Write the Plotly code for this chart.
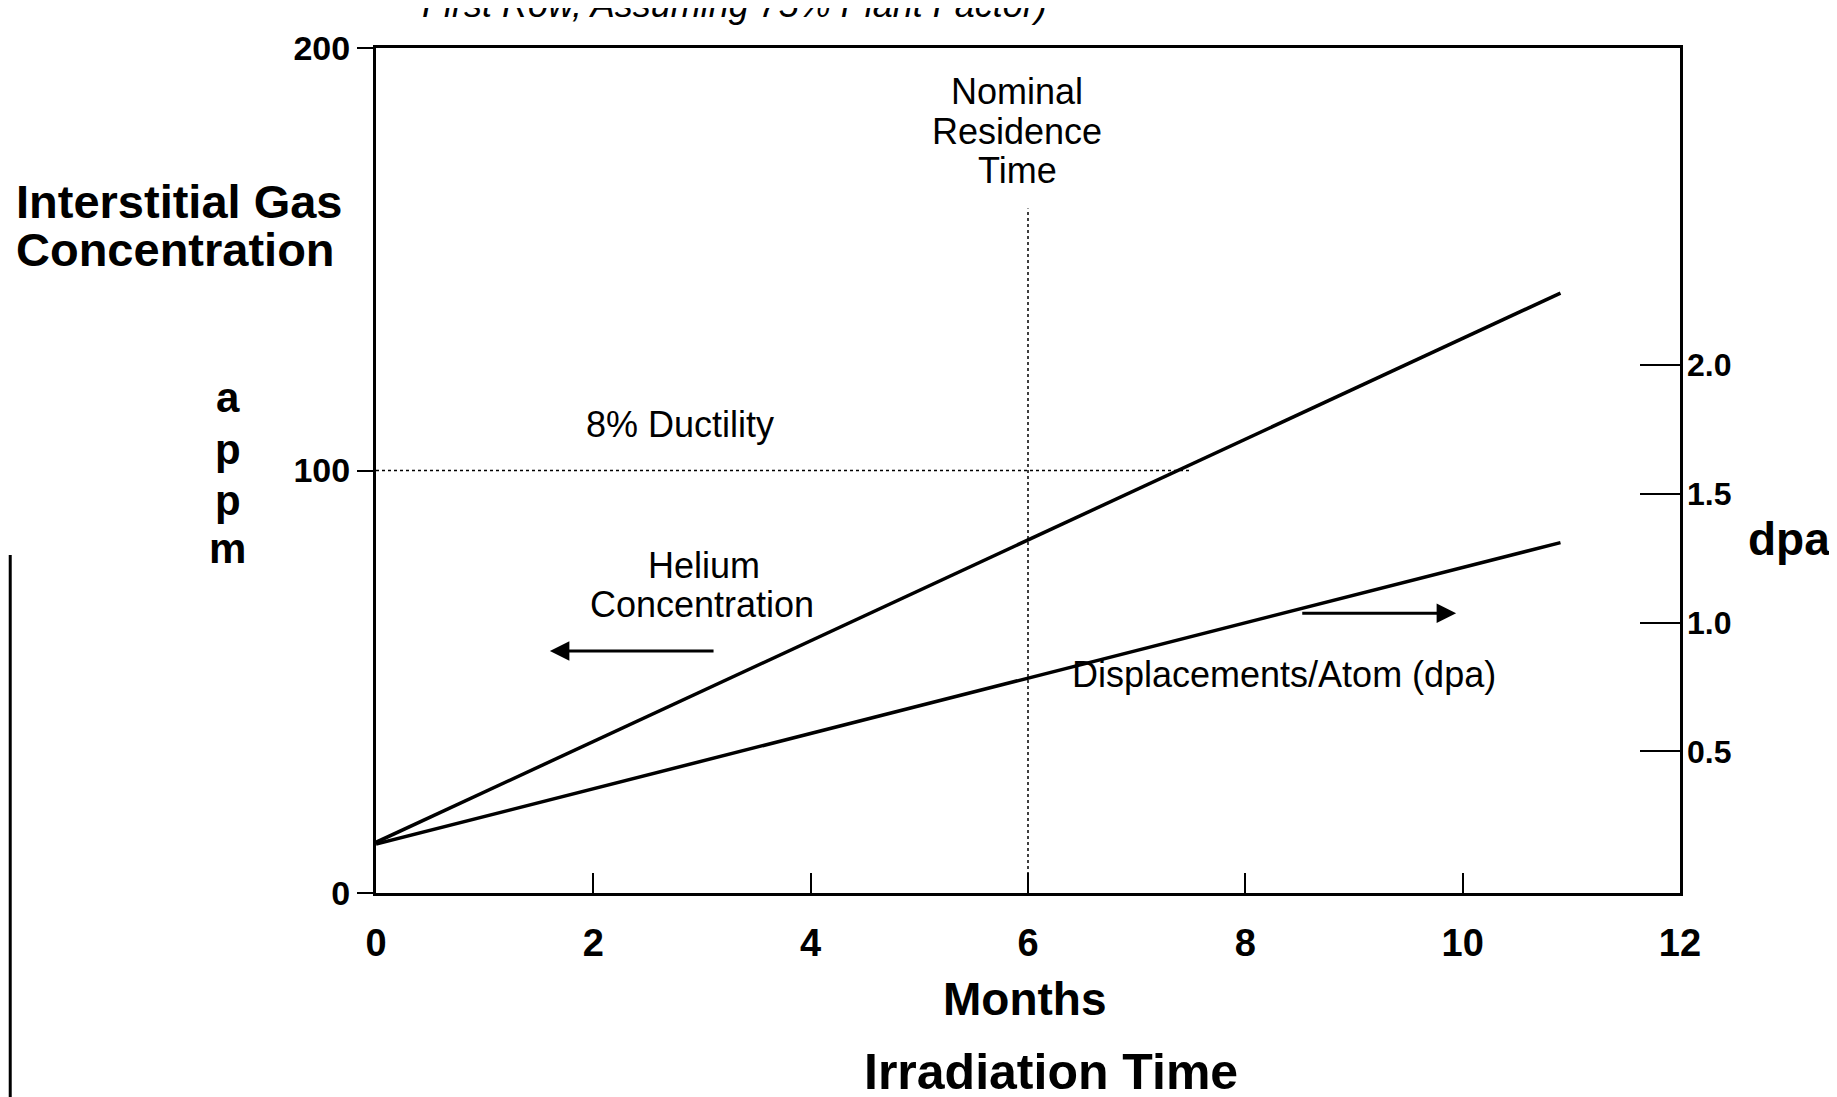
import plotly.graph_objects as go

# irradiation time (months) at start and end of the curves
months = [0, 10.9]
helium_appm = [12, 142]
dpa_values = [0.14, 1.31]

# reference lines
ductility_months = [0, 7.5]
ductility_appm = [100, 100]
residence_months = [6, 6]
residence_appm = [0, 162]

x_ticks = [0, 2, 4, 6, 8, 10, 12]
y_ticks = [0, 100, 200]
dpa_ticks = [0.5, 1.0, 1.5, 2.0]
dpa_tick_text = ["0.5", "1.0", "1.5", "2.0"]

FONT = "Liberation Sans Narrow, Arial Narrow, Arial, Liberation Sans, sans-serif"
SANS = "Arial, Liberation Sans, sans-serif"

fig = go.Figure()

fig.add_trace(go.Scatter(x=months, y=helium_appm, mode="lines",
                         line=dict(color="black", width=3.5), showlegend=False))
fig.add_trace(go.Scatter(x=months, y=dpa_values, mode="lines", yaxis="y2",
                         line=dict(color="black", width=3.5), showlegend=False))
fig.add_trace(go.Scatter(x=ductility_months, y=ductility_appm, mode="lines",
                         line=dict(color="black", width=1.5, dash="dot"), showlegend=False))
fig.add_trace(go.Scatter(x=residence_months, y=residence_appm, mode="lines",
                         line=dict(color="black", width=1.5, dash="dot"), showlegend=False))

txt = dict(family=SANS, size=36, color="black")


def label(x, y, text, **kw):
    d = dict(x=x, y=y, text=text, showarrow=False, xanchor="center", yanchor="middle", font=txt)
    d.update(kw)
    return d


def caption(x, y, text, size=46, **kw):
    d = dict(x=x, y=y, xref="paper", yref="paper", text=text, showarrow=False,
             xanchor="center", yanchor="middle",
             font=dict(family=SANS, size=size, color="black", weight="bold"))
    d.update(kw)
    return d


annotations = [
    label(5.9, 189.8, "Nominal"),
    label(5.9, 180.3, "Residence"),
    label(5.9, 170.9, "Time"),
    label(2.8, 110.8, "8% Ductility"),
    label(3.02, 77.6, "Helium"),
    label(3.0, 68.4, "Concentration"),
    label(8.36, 51.8, "Displacements/Atom (dpa)"),
    # arrows
    dict(x=1.6, y=57.3, ax=3.12, ay=57.3, axref="x", ayref="y", text="", showarrow=True,
         arrowhead=2, arrowsize=1.3, arrowwidth=3, arrowcolor="black"),
    dict(x=9.94, y=66.2, ax=8.51, ay=66.2, axref="x", ayref="y", text="", showarrow=True,
         arrowhead=2, arrowsize=1.3, arrowwidth=3, arrowcolor="black"),
    # axis captions
    caption(-0.2776, 0.818, "Interstitial Gas", size=47, xanchor="left"),
    caption(-0.2776, 0.7615, "Concentration", size=47, xanchor="left"),
    caption(-0.1135, 0.586, "a", size=42),
    caption(-0.1135, 0.5254, "p", size=42),
    caption(-0.1135, 0.465, "p", size=42),
    caption(-0.1135, 0.408, "m", size=42),
    caption(1.0836, 0.419, "dpa", size=46),
    caption(0.4977, -0.1254, "Months", size=46),
    caption(0.5176, -0.212, "Irradiation Time", size=50),
    dict(x=0.0335, y=1.0249, xref="paper", yref="paper", xanchor="left", yanchor="bottom",
         text="<i>First Row, Assuming 75% Plant Factor)</i>", showarrow=False,
         font=dict(family=FONT, size=36, color="black")),
]

fig.update_layout(
    width=1837, height=1097,
    margin=dict(l=368, r=165, t=40, b=212),
    paper_bgcolor="white", plot_bgcolor="white",
    annotations=annotations,
    shapes=[dict(type="line", xref="paper", yref="paper", x0=-0.2805, x1=-0.2805,
                 y0=0.40, y1=-0.26, line=dict(color="black", width=3))],
    xaxis=dict(range=[0, 12], tickvals=x_ticks, ticks="inside", ticklen=20, tickwidth=2,
               tickcolor="black", showline=True, linewidth=3, linecolor="black", mirror=True,
               showgrid=False, zeroline=False, ticklabelstandoff=14,
               tickfont=dict(family=FONT, size=38, color="black", weight="bold")),
    yaxis=dict(range=[0, 200], tickvals=y_ticks, ticks="outside", ticklen=16, tickwidth=2,
               tickcolor="black", showline=True, linewidth=3, linecolor="black", mirror=True,
               showgrid=False, zeroline=False,
               tickfont=dict(family=SANS, size=34, color="black", weight="bold")),
    yaxis2=dict(range=[-0.05, 3.23], overlaying="y", side="right", tickvals=dpa_ticks,
                ticktext=dpa_tick_text, ticks="inside", ticklen=40, tickwidth=2,
                tickcolor="black", showline=False, showgrid=False, zeroline=False,
                ticklabelstandoff=6,
                tickfont=dict(family=SANS, size=32, color="black", weight="bold")),
)

fig.write_html("out.html")
